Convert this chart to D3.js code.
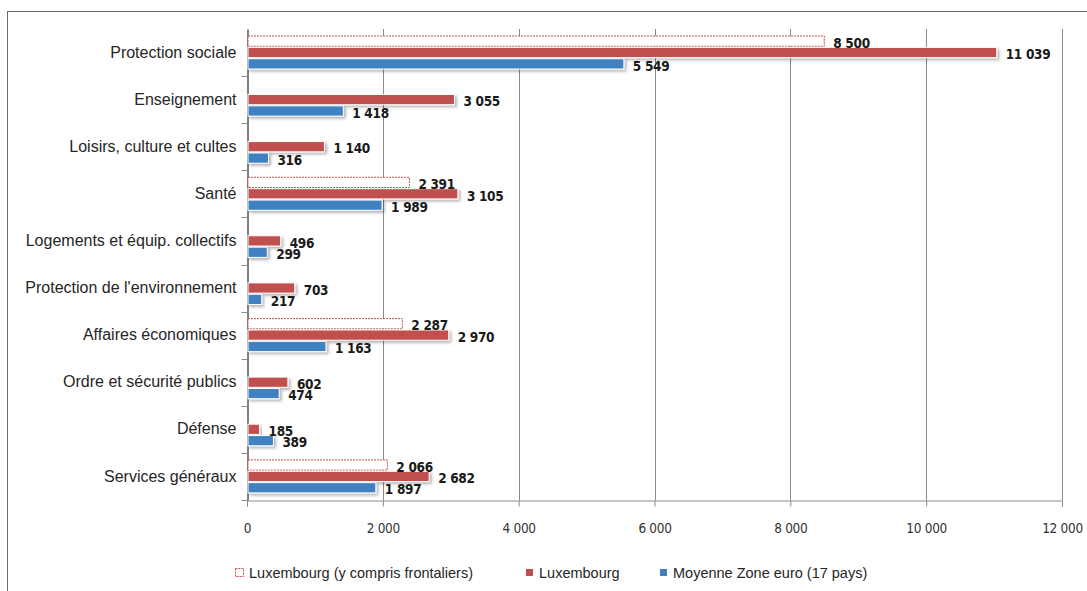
<!DOCTYPE html>
<html>
<head>
<meta charset="utf-8">
<script src="https://cdn.jsdelivr.net/npm/d3@7"></script>
<style>
    body { margin: 0; background: #fff; }
    svg { display: block; }
</style>
</head>
<body>
<div id="chart"></div>
<script>
'use strict';

var categories = ["Protection sociale", "Enseignement", "Loisirs, culture et cultes", "Santé",
    "Logements et équip. collectifs", "Protection de l'environnement", "Affaires économiques",
    "Ordre et sécurité publics", "Défense", "Services généraux"];
var luxFrontaliers = [8500, null, null, 2391, null, null, 2287, null, null, 2066];
var luxembourg = [11039, 3055, 1140, 3105, 496, 703, 2970, 602, 185, 2682];
var zoneEuro = [5549, 1418, 316, 1989, 299, 217, 1163, 474, 389, 1897];
var xTicks = [0, 2000, 4000, 6000, 8000, 10000, 12000];
var seriesNames = ["Luxembourg (y compris frontaliers)", "Luxembourg", "Moyenne Zone euro (17 pays)"];

var width = 1087, height = 591;
var margin = {top: 29, right: 25, bottom: 91, left: 247};
var red = "#c0504d", blue = "#4181c1";
var narrow = "'DejaVu Sans Condensed', 'Liberation Sans Narrow', sans-serif";

var locale = d3.formatLocale({decimal: ",", thousands: " ", grouping: [3], currency: ["", ""]});
var fmt = locale.format(",d");

var svg = d3.select("#chart").append("svg")
    .attr("width", width)
    .attr("height", height);

// drop shadow like the excel bars
var shadow = svg.append("defs").append("filter")
    .attr("id", "shadow")
    .attr("x", "-10%").attr("y", "-30%")
    .attr("width", "130%").attr("height", "180%");
shadow.append("feDropShadow")
    .attr("dx", 2).attr("dy", 2)
    .attr("stdDeviation", 1.4)
    .attr("flood-color", "#000")
    .attr("flood-opacity", 0.3);

// outer frame
svg.append("rect")
    .attr("x", 7.5).attr("y", 11.5)
    .attr("width", width + 10).attr("height", height + 10)
    .attr("fill", "none")
    .attr("stroke", "#6d6d6d")
    .attr("stroke-width", 1);

var x = d3.scaleLinear()
    .domain([0, 12000])
    .range([margin.left, width - margin.right]);

var y0 = d3.scaleBand()
    .domain(categories)
    .range([margin.top, height - margin.bottom]);

var keys = ["frontaliers", "lux", "euro"];
var y1 = d3.scaleBand()
    .domain(keys)
    .range([7, 40])
    .paddingInner(0.1);

// grid lines
svg.append("g")
    .selectAll("line")
    .data(xTicks.slice(1))
    .join("line")
    .attr("x1", function(d) { return Math.round(x(d)) + 0.5; })
    .attr("x2", function(d) { return Math.round(x(d)) + 0.5; })
    .attr("y1", margin.top)
    .attr("y2", height - margin.bottom)
    .attr("stroke", "#8a8a8a");

// x axis
var xAxis = svg.append("g")
    .attr("transform", "translate(0," + (height - margin.bottom + 0.5) + ")")
    .call(d3.axisBottom(x).tickValues(xTicks).tickFormat(fmt).tickSize(6).tickPadding(17));
xAxis.select(".domain").attr("stroke", "#8a8a8a");
xAxis.selectAll(".tick line").attr("stroke", "#8a8a8a");
xAxis.selectAll("text")
    .attr("fill", "#333")
    .style("font-family", narrow)
    .style("font-size", "13.5px")
    .style("letter-spacing", "-0.3px");

// y axis
var yAxis = svg.append("g")
    .attr("transform", "translate(" + (margin.left + 0.5) + ",0)")
    .call(d3.axisLeft(y0).tickSize(0).tickPadding(11));
yAxis.select(".domain").attr("stroke", "#000");
yAxis.selectAll("text")
    .attr("fill", "#262626")
    .style("font-family", "'Liberation Sans', sans-serif")
    .style("font-size", "16px");
// category boundary ticks
yAxis.append("g")
    .selectAll("line")
    .data(categories)
    .join("line")
    .attr("x1", -6).attr("x2", 0)
    .attr("y1", function(d) { return Math.round(y0(d) + y0.bandwidth()) + 0.5; })
    .attr("y2", function(d) { return Math.round(y0(d) + y0.bandwidth()) + 0.5; })
    .attr("stroke", "#8a8a8a");

var rows = categories.map(function(c, i) {
    return {cat: c, values: [
        {key: "frontaliers", value: luxFrontaliers[i]},
        {key: "lux", value: luxembourg[i]},
        {key: "euro", value: zoneEuro[i]}
    ].filter(function(v) { return v.value != null; })};
});

var groups = svg.append("g")
    .selectAll("g")
    .data(rows)
    .join("g")
    .attr("transform", function(d) { return "translate(0," + y0(d.cat) + ")"; });

groups.selectAll("rect")
    .data(function(d) { return d.values; })
    .join("rect")
    .attr("x", x(0) + 1)
    .attr("y", function(d) { return y1(d.key); })
    .attr("width", function(d) { return x(d.value) - x(0) - 1; })
    .attr("height", y1.bandwidth())
    .attr("fill", function(d) {
        return d.key === "frontaliers" ? "#fff" : (d.key === "lux" ? red : blue);
    })
    .attr("stroke", function(d) { return d.key === "frontaliers" ? red : "#fff"; })
    .attr("stroke-width", 1)
    .attr("stroke-dasharray", function(d) { return d.key === "frontaliers" ? "2,1" : null; })
    .attr("filter", function(d) { return d.key === "frontaliers" ? null : "url(#shadow)"; });

groups.selectAll("text")
    .data(function(d) { return d.values; })
    .join("text")
    .attr("x", function(d) { return x(d.value) + 9; })
    .attr("y", function(d) { return y1(d.key) + y1.bandwidth() / 2 + 2; })
    .attr("dy", "0.35em")
    .attr("fill", "#1a1a1a")
    .style("font-family", narrow)
    .style("font-weight", "bold")
    .style("font-size", "13.5px")
    .style("letter-spacing", "-0.3px")
    .text(function(d) { return fmt(d.value); });

// legend
var legendX = [235, 525, 659];
var legend = svg.append("g")
    .selectAll("g")
    .data(seriesNames)
    .join("g")
    .attr("transform", function(d, i) { return "translate(" + legendX[i] + ",573)"; });

legend.append("rect")
    .attr("x", 0.5).attr("y", -4.5)
    .attr("width", 8).attr("height", 8)
    .attr("fill", function(d, i) { return i === 0 ? "#fff" : (i === 1 ? red : blue); })
    .attr("stroke", function(d, i) { return i === 0 ? red : "#fff"; })
    .attr("stroke-dasharray", function(d, i) { return i === 0 ? "2,1" : null; });

legend.append("text")
    .attr("x", 14)
    .attr("y", 0)
    .attr("dy", "0.35em")
    .attr("fill", "#262626")
    .style("font-family", "'Liberation Sans', sans-serif")
    .style("font-size", "14.5px")
    .text(function(d) { return d; });
</script>
</body>
</html>
